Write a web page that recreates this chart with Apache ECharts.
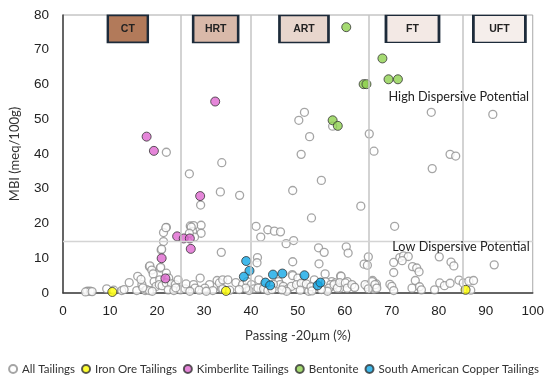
<!DOCTYPE html>
<html>
<head>
<meta charset="utf-8">
<script src="https://cdn.jsdelivr.net/npm/echarts@6/dist/echarts.min.js"></script>
<style>
  html, body { margin: 0; padding: 0; background: #fff; }
  #chart { width: 547px; height: 385px; }
</style>
</head>
<body>
<div id="chart"></div>
<script>
// 数据：[Passing -20µm (%), MBI (meq/100g)]
const seriesNames = ["All Tailings", "Iron Ore Tailings", "Kimberlite Tailings", "Bentonite", "South American Copper Tailings"];

const allTailings = [
  [22.0,40.5],[33.8,37.5],[26.9,34.3],[33.5,29.1],[37.6,28.1],[29.3,25.3],[29.4,19.5],[29.4,17.2],
  [22.0,18.9],[21.4,17.4],[21.4,14.8],[20.9,12.4],[20.7,7.2],[18.4,7.6],[27.1,19.3],[27.8,19.4],
  [27.6,17.7],[28.0,16.1],[33.7,11.7],[41.1,19.2],[42.1,16.1],[43.6,18.2],[45.0,17.8],[46.3,17.6],
  [47.5,14.2],[49.1,15.1],[41.4,10.2],[41.3,8.7],[29.2,4.3],[48.9,29.5],[63.4,25.0],[52.9,21.6],
  [48.9,9.0],[54.4,13.0],[55.6,11.7],[60.3,13.3],[60.7,11.5],[54.5,8.4],[55.8,5.5],[59.1,4.9],
  [65.0,10.4],[64.1,8.3],[64.8,8.0],[48.8,5.3],
  [50.7,39.9],[66.2,40.8],[82.4,39.9],[83.6,39.4],[78.6,35.8],[55.0,32.4],[70.6,19.2],
  [70.4,8.8],[70.4,5.9],[71.7,10.2],[72.5,10.7],[73.5,10.5],[72.2,9.3],[74.4,7.6],[75.3,7.2],
  [75.8,6.1],[80.1,10.4],[82.6,8.9],[83.2,7.8],[91.8,8.1],
  [69.6,2.5],[70.0,1.9],[70.4,0.7],[75.0,3.6],[74.3,1.4],[75.9,1.8],[76.3,0.9],[79.1,0.9],
  [80.2,2.9],[81.2,2.1],[82.4,2.8],[84.3,3.7],[85.2,2.9],[86.4,3.4],[87.4,3.6],[86.8,0.8],
  [59.2,4.8],[60.5,3.3],[62.0,1.7],[57.2,3.3],[58.0,2.9],[57.0,1.9],[58.9,1.4],[64.7,1.9],
  [65.9,3.6],[66.6,2.4],[66.2,1.1],[66.7,2.6],[66.5,1.4],
  [48.9,5.0],[50.0,4.3],[51.1,2.6],[52.3,0.5],[53.5,3.8],[54.2,1.9],
  [51.4,52.0],[50.2,49.7],[52.5,45.0],[78.4,52.0],[91.5,51.4],[65.2,45.8],[57.4,48.0],
  [5.2,0.5],[5.8,0.5],[4.8,0.3],[6.2,0.4],[9.3,1.2],[12.5,0.7],[14.1,3.0],[15.7,0.7],
  [15.9,4.8],[16.8,2.4],[17.5,0.7],[17.8,1.0],[18.4,0.7],[18.5,7.8],[18.9,6.6],[19.2,5.5],
  [16.6,3.9],[19.4,3.3],[20.6,3.8],[19.8,1.9],[20.5,2.4],[21.1,2.1],[21.9,18.8],[21.0,12.6],
  [20.8,7.4],[22.0,5.7],[22.5,4.3],[22.0,2.9],[23.1,2.6],[23.9,2.4],[24.5,3.8],[22.4,0.9],
  [23.6,0.7],[25.0,0.9],[26.0,1.2],[26.2,2.6],[27.8,2.4],[28.1,1.4],[27.3,19.0],[26.9,17.2],
  [32.8,3.6],[31.2,2.4],[30.2,1.4],[31.9,0.7],[33.7,1.4],[33.3,2.9],[34.0,3.8],
  [35.1,3.8],[36.8,3.0],[34.0,1.2],[38.2,2.4],[39.2,3.3],[40.1,2.4],[40.6,1.2],[39.6,0.7],
  [38.9,1.4],[41.7,3.8],[41.5,1.4],[42.7,1.2],[43.6,0.7],[45.9,3.3],[46.2,2.4],[46.9,1.9],
  [47.9,1.2],[48.6,1.9],[47.6,0.5],[49.7,2.4],[50.7,2.8],[51.8,2.6],[52.8,1.8],[55.9,3.2],
  [57.0,2.4],[56.6,1.4],[56.3,0.5],[57.7,2.4],[58.4,1.4],[58.9,3.0],[60.1,2.9],[60.5,1.4],
  [61.5,2.4],[62.1,1.6],[64.3,2.4],[65.0,1.2],[65.8,3.3],[66.4,2.4],[66.8,1.4],[44.8,2.5],
  [46.6,0.9],
  [13.0,1.0],[10.8,0.8],[17.0,1.5],[19.0,0.5],[24.0,1.5],[27.0,0.5],[29.0,0.8],[30.5,0.5],
  [35.5,0.8],[37.5,1.0],[44.5,1.0],[50.5,0.8],[53.0,0.6],[55.0,1.0]
];

const ironOre = [[10.5,0.3],[34.7,0.6],[85.7,0.9]];

const kimberlite = [
  [17.8,45.0],[19.35,40.9],[32.4,55.1],[29.2,27.9],[24.3,16.3],
  [25.7,15.7],[27.0,15.7],[27.2,12.7],[21.0,10.0],[21.8,4.2]
];

const bentonite = [
  [60.3,76.5],[68.0,67.5],[69.3,61.5],[71.3,61.5],
  [64.0,60.1],[64.6,60.1],[57.4,49.7],[58.5,48.1]
];

const copper = [
  [39.0,9.2],[39.7,6.4],[38.5,4.7],[43.1,3.0],[44.1,2.2],
  [44.7,5.3],[46.7,5.6],[51.4,5.1],[54.2,2.2],[54.8,3.0]
];

// 粒度分类区间
const classNames = ["CT", "HRT", "ART", "FT", "UFT"];
const classCenters = [13.8, 32.5, 51.3, 74.4, 92.9];
const classBoundaries = [25, 40, 65, 85];
const mbiThreshold = 15;

const xTicks = [0, 10, 20, 30, 40, 50, 60, 70, 80, 90, 100];
const yTicks = [0, 10, 20, 30, 40, 50, 60, 70, 80];

document.addEventListener("DOMContentLoaded", function () {
  const chart = echarts.init(document.getElementById("chart"));

  const boxColors = ["#b27a5a", "#d9b9a9", "#e8d6cd", "#f3e9e5", "#f5eeeb"];
  const boxWidths = [40, 45, 49, 53, 52];
  const textFont = "Lato";

  const option = {
    animation: false,
    textStyle: { fontFamily: "Liberation Sans" },
    grid: {
      left: 57, right: 11, top: 15, bottom: 92,
      show: true, borderColor: "#a8a8a8", borderWidth: 1
    },
    legend: {
      bottom: 5,
      left: "center",
      itemWidth: 8,
      itemHeight: 8,
      itemGap: 6,
      textStyle: { fontFamily: textFont, fontSize: 11.5, color: "#333" },
      data: seriesNames.map(function (n) { return { name: n, icon: "circle" }; })
    },
    xAxis: {
      type: "value",
      min: xTicks[0], max: xTicks[xTicks.length - 1], interval: 10,
      name: "Passing -20µm (%)",
      nameLocation: "middle",
      nameGap: 36,
      nameTextStyle: { fontFamily: textFont, fontSize: 13, color: "#333" },
      axisLine: { lineStyle: { color: "#404040", width: 1.5 } },
      axisTick: { show: false },
      axisLabel: { fontSize: 13.5, color: "#222", margin: 11 },
      splitLine: { show: false }
    },
    yAxis: {
      type: "value",
      min: yTicks[0], max: yTicks[yTicks.length - 1], interval: 10,
      name: "MBI (meq/100g)",
      nameLocation: "middle",
      nameGap: 42,
      nameTextStyle: { fontFamily: textFont, fontSize: 13, color: "#333" },
      axisLine: { show: true, lineStyle: { color: "#404040", width: 1.5 } },
      axisTick: { show: false },
      axisLabel: { fontSize: 13.5, color: "#222", margin: 14 },
      splitLine: { show: false }
    },
    series: [
      {
        name: seriesNames[0],
        type: "scatter",
        data: allTailings,
        symbolSize: 8,
        itemStyle: { color: "#fff", borderColor: "#8f8f8f", borderWidth: 1.3 },
        z: 2,
        markLine: {
          silent: true,
          symbol: "none",
          label: { show: false },
          lineStyle: { type: "solid", color: "#c4c4c4", width: 1.5 },
          data: classBoundaries.map(function (v) { return { xAxis: v }; })
            .concat([{ yAxis: mbiThreshold, lineStyle: { color: "#d4d4d4", width: 1.3 } }])
        },
        markPoint: {
          silent: true,
          data: classNames.map(function (n, i) {
            return {
              name: n,
              coord: [classCenters[i], 76],
              symbol: "rect",
              symbolSize: [boxWidths[i], 27],
              itemStyle: { color: boxColors[i], borderColor: "#1d2b3a", borderWidth: 2 },
              label: {
                show: true, position: "inside", formatter: n,
                fontFamily: "Liberation Sans", fontWeight: "bold", fontSize: 10.5, color: "#222"
              }
            };
          }).concat([
            {
              coord: [69.3, 56.4], symbolSize: 0,
              label: { show: true, position: "right", distance: 0, formatter: "High Dispersive Potential",
                fontFamily: textFont, fontSize: 12.7, color: "#222" }
            },
            {
              coord: [70.1, 13.3], symbolSize: 0,
              label: { show: true, position: "right", distance: 0, formatter: "Low Dispersive Potential",
                fontFamily: textFont, fontSize: 12.7, color: "#222" }
            }
          ])
        }
      },
      {
        name: seriesNames[1], type: "scatter", data: ironOre, symbolSize: 9, z: 3,
        itemStyle: { color: "#ffff00", borderColor: "#333", borderWidth: 1 }
      },
      {
        name: seriesNames[2], type: "scatter", data: kimberlite, symbolSize: 9, z: 3,
        itemStyle: { color: "#de68d0", borderColor: "#333", borderWidth: 1 }
      },
      {
        name: seriesNames[3], type: "scatter", data: bentonite, symbolSize: 9, z: 3,
        itemStyle: { color: "#8fd14f", borderColor: "#333", borderWidth: 1 }
      },
      {
        name: seriesNames[4], type: "scatter", data: copper, symbolSize: 9, z: 3,
        itemStyle: { color: "#12a7e6", borderColor: "#333", borderWidth: 1 }
      }
    ]
  };

  chart.setOption(option);
});
</script>
</body>
</html>
